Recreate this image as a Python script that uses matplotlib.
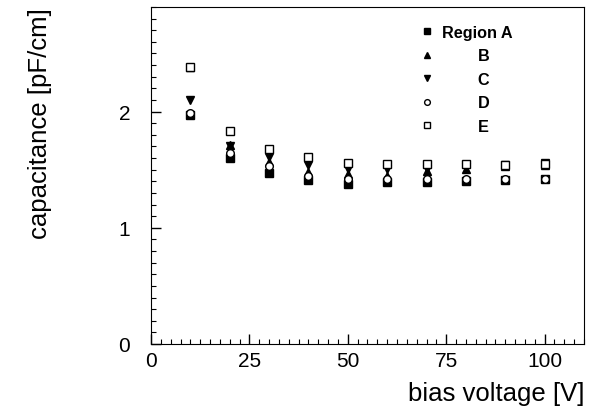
import matplotlib
matplotlib.use('Agg')
import matplotlib.pyplot as plt
from matplotlib.ticker import MultipleLocator

# bias voltage [V]
voltage = [10, 20, 30, 40, 50, 60, 70, 80, 90, 100]

# capacitance [pF/cm] per region
region_a = [1.97, 1.60, 1.47, 1.41, 1.38, 1.39, 1.39, 1.40, 1.41, 1.42]
region_b = [2.38, 1.71, 1.57, 1.48, 1.46, 1.45, 1.49, 1.51, 1.535, 1.54]
region_c = [2.10, 1.70, 1.61, 1.54, 1.51, 1.51, 1.51, 1.52, 1.54, 1.56]
region_d = [1.99, 1.64, 1.53, 1.45, 1.42, 1.42, 1.42, 1.42, 1.42, 1.42]
region_e = [2.38, 1.83, 1.675, 1.61, 1.56, 1.55, 1.55, 1.55, 1.54, 1.55]

labels = ["Region A", "        B", "        C", "        D", "        E"]

plt.rcParams['font.family'] = ['Liberation Sans', 'DejaVu Sans']

fig = plt.figure(figsize=(5.93, 4.10), dpi=100)
ax = fig.add_axes([151 / 593, 1 - 345 / 410, (584 - 151) / 593, (345 - 8) / 410])

ms = 5.5
ax.plot(voltage, region_a, 's', color='black', ms=ms, label=labels[0])
ax.plot(voltage, region_b, '^', color='black', ms=ms, label=labels[1])
ax.plot(voltage, region_c, 'v', color='black', ms=ms, label=labels[2])
ax.plot(voltage, region_d, 'o', mfc='white', mec='black', mew=1, ms=ms, label=labels[3])
ax.plot(voltage, region_e, 's', mfc='white', mec='black', mew=1, ms=ms, label=labels[4])

ax.set_xlim(0, 110)
ax.set_ylim(0, 2.9)
ax.xaxis.set_major_locator(MultipleLocator(25))
ax.xaxis.set_minor_locator(MultipleLocator(2.5))
ax.yaxis.set_major_locator(MultipleLocator(1))
ax.yaxis.set_minor_locator(MultipleLocator(0.1))
ax.tick_params(which='both', direction='in', labelsize=15)
ax.tick_params(which='major', length=7, width=1)
ax.tick_params(which='minor', length=3.5, width=0.8)
ax.tick_params(axis='y', pad=15)
ax.tick_params(axis='x', pad=5)

ax.set_xlabel("bias voltage [V]", fontsize=18.5, loc='right', labelpad=8)
ax.set_ylabel("capacitance [pF/cm]", fontsize=18.5, loc='top', labelpad=48)

leg = ax.legend(loc='upper left', bbox_to_anchor=(0.585, 0.99), frameon=False,
                markerscale=0.75, handlelength=1.0, handletextpad=0.4,
                labelspacing=0.52, prop={'weight': 'bold', 'size': 11.7})

fig.savefig("out.png", dpi=100)
